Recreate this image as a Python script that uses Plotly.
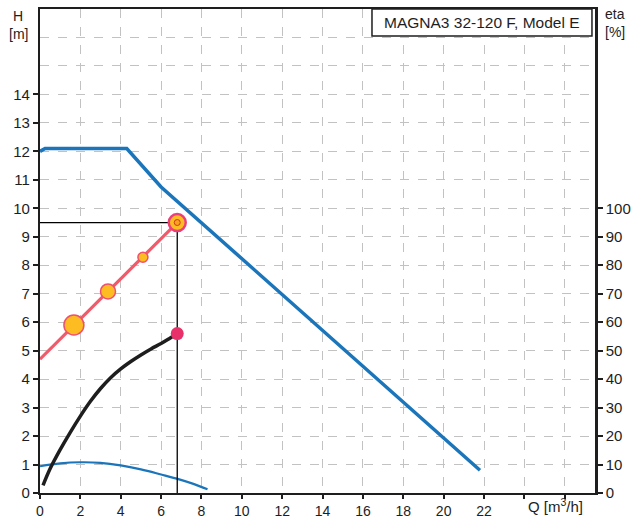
import plotly.graph_objects as go

# ---- data ----
# Pump H-Q curve (blue, max curve)
pump_q = [0.0, 0.25, 4.3, 6.0, 21.8]
pump_h = [12.0, 12.1, 12.1, 10.75, 0.8]

# Lower blue curve (H axis units)
low_q = [0.0, 1.0, 2.0, 3.0, 4.0, 5.0, 6.0, 6.9, 7.6, 8.3]
low_h = [0.94, 1.04, 1.08, 1.06, 0.97, 0.83, 0.65, 0.48, 0.32, 0.13]

# Efficiency curve (black, eta %)
eta_q = [0.15, 0.5, 1.0, 1.5, 2.0, 2.5, 3.0, 3.5, 4.0, 4.5, 5.0, 5.5, 6.0, 6.4, 6.8]
eta_v = [2.7, 8.5, 15.2, 21.3, 27.0, 32.2, 36.7, 40.5, 43.6, 46.2, 48.5, 50.6, 52.5, 54.2, 56.0]

# Control curve (red) and its markers
ctrl_q = [0.0, 6.8]
ctrl_h = [4.7, 9.5]
mark_q = [1.68, 3.37, 5.1]
mark_h = [5.9, 7.08, 8.28]
mark_size = [20, 15, 10]

# Operating point
op_q = 6.8
op_h = 9.5
op_eta = 56.0

x_ticks = [0, 2, 4, 6, 8, 10, 12, 14, 16, 18, 20, 22]
x_labels = ["0", "2", "4", "6", "8", "10", "12", "14", "16", "18", "20", "22"]
y_ticks = list(range(0, 15))
eta_ticks = list(range(0, 101, 10))

title_text = "MAGNA3 32-120 F, Model E"

BLUE = "#1b75bb"
RED = "#f05a6a"
INK = "#1e1e1e"
GRID = "#c2c2c2"
FONT = "Liberation Sans, Arial, sans-serif"

fig = go.Figure()

fig.add_trace(go.Scatter(x=low_q, y=low_h, mode="lines",
                         line=dict(color=BLUE, width=2.2, shape="spline"), showlegend=False))
fig.add_trace(go.Scatter(x=pump_q, y=pump_h, mode="lines",
                         line=dict(color=BLUE, width=3.5), showlegend=False))
# operating point guide lines
fig.add_trace(go.Scatter(x=[0, op_q, op_q], y=[op_h, op_h, 0], mode="lines",
                         line=dict(color="black", width=1.3), showlegend=False))
# efficiency curve
fig.add_trace(go.Scatter(x=eta_q, y=eta_v, mode="lines", yaxis="y2",
                         line=dict(color=INK, width=3.5, shape="spline", smoothing=1.0),
                         showlegend=False))
fig.add_trace(go.Scatter(x=[op_q], y=[op_eta], mode="markers", yaxis="y2",
                         marker=dict(size=13, color="#e8306a", line=dict(width=0)),
                         showlegend=False))
# control curve
fig.add_trace(go.Scatter(x=ctrl_q, y=ctrl_h, mode="lines",
                         line=dict(color=RED, width=3.2), showlegend=False))
fig.add_trace(go.Scatter(x=mark_q, y=mark_h, mode="markers",
                         marker=dict(size=mark_size, color="#fcbc22", opacity=1,
                                     line=dict(color="#f0506e", width=1.5)),
                         showlegend=False))
fig.add_trace(go.Scatter(x=[op_q], y=[op_h], mode="markers",
                         marker=dict(size=17, color="#fcbc22", opacity=1,
                                     line=dict(color="#ec3f7a", width=2.5)),
                         showlegend=False))
fig.add_trace(go.Scatter(x=[op_q], y=[op_h], mode="markers",
                         marker=dict(size=6, color="#f7a21b", opacity=1,
                                     line=dict(color="#d9302a", width=1)),
                         showlegend=False))

fig.update_layout(
    width=633, height=518,
    margin=dict(l=40, r=38, t=9, b=25, autoexpand=False),
    paper_bgcolor="white", plot_bgcolor="white",
    font=dict(family=FONT, size=15, color=INK),
    xaxis=dict(range=[0, 27.5], tickmode="array", tickvals=x_ticks, ticktext=x_labels,
               tickfont=dict(size=14),
               showgrid=True, gridcolor=GRID, griddash="dash", gridwidth=1,
               minor=dict(tickmode="linear", tick0=0, dtick=2, showgrid=True,
                          gridcolor=GRID, griddash="dash", ticks="outside",
                          ticklen=4, tickwidth=2, tickcolor=INK),
               showline=True, linecolor=INK, linewidth=2.2, mirror=True,
               ticks="outside", ticklen=4, tickwidth=2, tickcolor=INK,
               zeroline=False, fixedrange=True, automargin=False),
    yaxis=dict(range=[0, 17], tickmode="array", tickvals=y_ticks,
               showgrid=True, gridcolor=GRID, griddash="dash", gridwidth=1,
               minor=dict(dtick=1, showgrid=True, gridcolor=GRID, griddash="dash",
                          ticks=""),
               showline=True, linecolor=INK, linewidth=2.2,
               ticks="outside", ticklen=5, tickwidth=2, tickcolor=INK,
               zeroline=False, fixedrange=True, automargin=False),
    yaxis2=dict(range=[0, 170], overlaying="y", side="right", tickmode="array",
                tickvals=eta_ticks, showgrid=False,
                showline=True, linecolor=INK, linewidth=2.5,
                ticks="outside", ticklen=5, tickwidth=2, tickcolor=INK,
                zeroline=False, fixedrange=True, automargin=False),
    shapes=[dict(type="rect", xref="x", yref="y", x0=16.45, x1=27.35, y0=16.05, y1=17,
                 line=dict(color=INK, width=1.5), fillcolor="white", layer="above")],
    annotations=[
        dict(x=21.9, y=16.52, xref="x", yref="y", text=title_text, showarrow=False,
             font=dict(size=15.5), xanchor="center", yanchor="middle"),
        dict(x=0.0, y=1.0, xref="paper", yref="paper", text="H", showarrow=False,
             xanchor="center", yanchor="middle", xshift=-22, yshift=-7, borderpad=0,
             font=dict(size=14)),
        dict(x=0.0, y=1.0, xref="paper", yref="paper", text="[m]", showarrow=False,
             xanchor="center", yanchor="middle", xshift=-22, yshift=-25, borderpad=0,
             font=dict(size=14)),
        dict(x=1.0, y=1.0, xref="paper", yref="paper", text="eta", showarrow=False,
             xanchor="center", yanchor="middle", xshift=20, yshift=-5, borderpad=0,
             font=dict(size=14)),
        dict(x=1.0, y=1.0, xref="paper", yref="paper", text="[%]", showarrow=False,
             xanchor="center", yanchor="middle", xshift=20, yshift=-23, borderpad=0,
             font=dict(size=14)),
        dict(x=25.55, y=0, xref="x", yref="paper", text="Q [m<sup>3</sup>/h]", showarrow=False,
             xanchor="center", yanchor="top", yshift=-1, font=dict(size=15)),
    ],
)

fig.write_html("out.html", config={"displayModeBar": False},
               post_script="document.body.style.margin='0';")
